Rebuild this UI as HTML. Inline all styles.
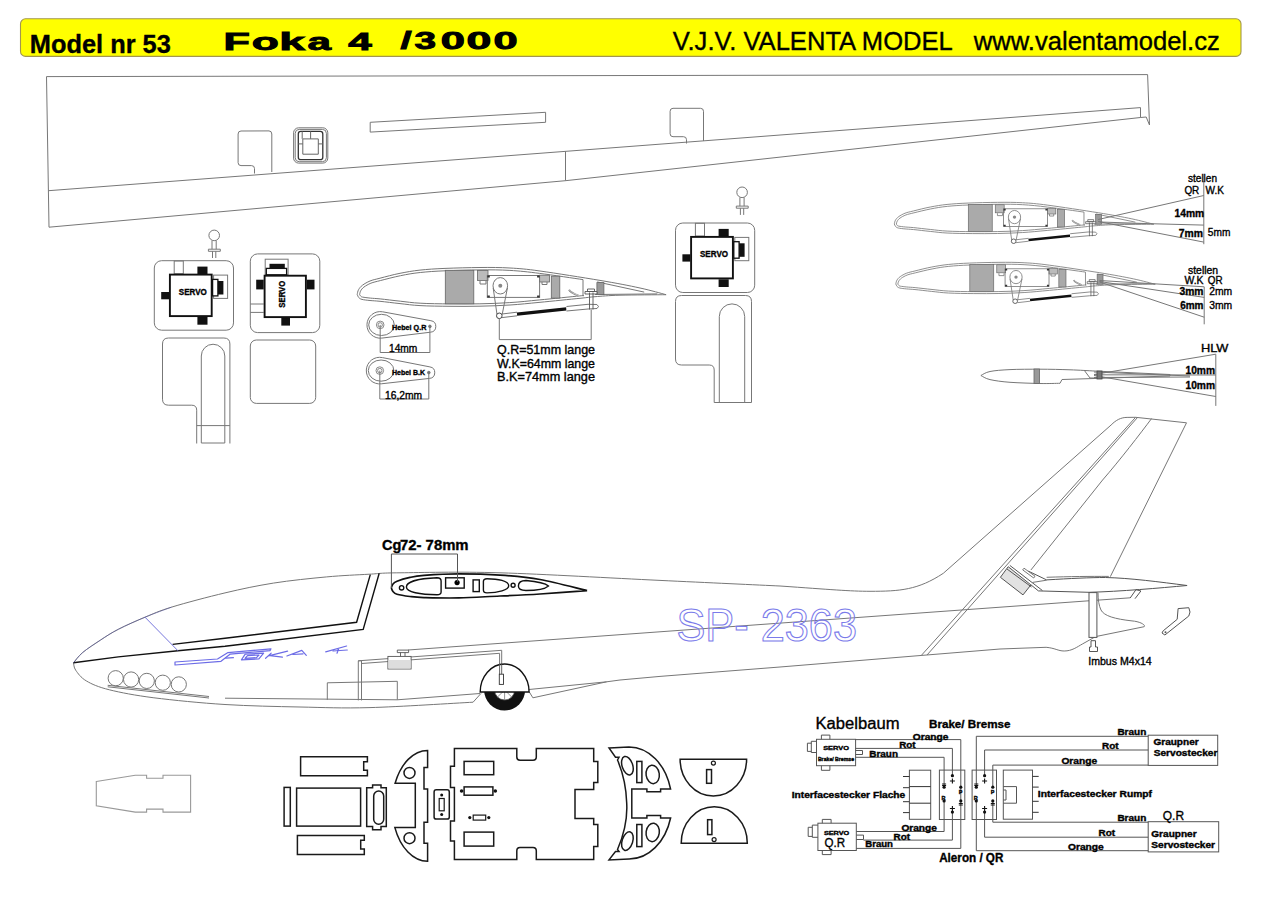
<!DOCTYPE html>
<html><head><meta charset="utf-8"><title>Foka 4</title>
<style>
html,body{margin:0;padding:0;background:#fff;width:1273px;height:900px;overflow:hidden}
svg{display:block}
text{font-family:"Liberation Sans",sans-serif;fill:#000;stroke:#000;stroke-width:0.35px}
.l{fill:none;stroke:#555;stroke-width:1}
.g{fill:none;stroke:#777;stroke-width:1}
.k{fill:none;stroke:#111;stroke-width:1.4}
.b{font-weight:bold}
</style></head><body>
<svg width="1273" height="900" viewBox="0 0 1273 900" xml:space="preserve">
<rect x="20.5" y="18.8" width="1220.5" height="37.6" rx="5" fill="#ffff00" stroke="#a39650" stroke-width="1.1"/>
<text x="29.8" y="52.6" font-size="26.0" class="b" textLength="141.0" lengthAdjust="spacingAndGlyphs">Model nr 53</text>
<text transform="translate(223.48 49.60) scale(1.778 1)" font-size="24.3" class="b" style="stroke:#000;stroke-width:0.90">F</text>
<text transform="translate(251.75 49.60) scale(1.822 1)" font-size="24.3" class="b" style="stroke:#000;stroke-width:0.90">o</text>
<text transform="translate(279.22 49.60) scale(1.902 1)" font-size="24.3" class="b" style="stroke:#000;stroke-width:0.90">k</text>
<text transform="translate(307.52 49.60) scale(1.735 1)" font-size="24.3" class="b" style="stroke:#000;stroke-width:0.90">a</text>
<text transform="translate(348.14 49.60) scale(1.735 1)" font-size="24.3" class="b" style="stroke:#000;stroke-width:0.90">4</text>
<text transform="translate(400.54 49.40) scale(1.649 1)" font-size="24.3" class="b" style="stroke:#000;stroke-width:0.90">/</text>
<text transform="translate(414.54 49.40) scale(1.594 1)" font-size="24.3" class="b" style="stroke:#000;stroke-width:0.90">3</text>
<text transform="translate(440.67 49.40) scale(1.786 1)" font-size="24.3" class="b" style="stroke:#000;stroke-width:0.90">0</text>
<text transform="translate(466.44 49.40) scale(1.834 1)" font-size="24.3" class="b" style="stroke:#000;stroke-width:0.90">0</text>
<text transform="translate(493.47 49.40) scale(1.786 1)" font-size="24.3" class="b" style="stroke:#000;stroke-width:0.90">0</text>
<text x="672.8" y="50.3" font-size="25.6" textLength="280.0" lengthAdjust="spacingAndGlyphs">V.J.V. VALENTA MODEL</text>
<text x="973.8" y="50.3" font-size="25.6" textLength="246.0" lengthAdjust="spacingAndGlyphs">www.valentamodel.cz</text>
<g class="g">
<path d="M46.5 76.6 L1147.6 74.6 L1149.5 125 L1146.2 117 L1140.5 117.5 L565.5 180.7 L49 227.2 Z"/>
<path d="M48.5 190.7 L1140.5 107.6 L1140.5 117.5"/>
<path d="M565.5 151.4 L565.5 180.7"/>
<path d="M370.2 122.3 L545.6 112.3 L545.6 122.3 L370.2 132.1 Z"/>
<path d="M241 131 L269 130.9 Q271.8 131 271.8 134 L271.8 172 M238.1 134 Q238.1 131 241 131 M238.1 134 L238.1 162.6 Q238.1 165.6 241 165.6 L251.5 165.6 Q254.5 165.6 254.5 168.6 L254.5 173.5"/>
<path d="M673 108.3 L700.5 108.3 Q703.5 108.3 703.5 111.3 L703.5 141 M670.1 111.3 Q670.1 108.3 673 108.3 M670.1 111.3 L670.1 133.7 Q670.1 136.7 673 136.7 L683.5 136.7 Q686.5 136.7 686.5 139.7 L686.5 143.5"/>
<rect x="293.6" y="127.8" width="34.2" height="35.3" rx="5"/>
<rect x="295.2" y="129.4" width="31.2" height="32.3" rx="4"/>
<rect x="298.3" y="131.4" width="24.5" height="28.3" rx="2.5" stroke="#333" stroke-width="1.3"/>
<path d="M302.8 138.9 L318.3 138.9 L318.3 154.2 L302.8 154.2 Z M302.2 131.4 L302.2 138.9 M310.6 131.4 L310.6 138.9 M298.3 143.9 L302.8 143.9 M318.3 143.9 L322.8 143.9" stroke="#666"/>
</g>
<g transform="translate(0.0 0.0)"><rect x="154.3" y="260.7" width="79.2" height="69.5" rx="7.3" class="g"/>
<rect x="174.2" y="261" width="9.1" height="12.7" class="g" stroke="#aaa"/>
<rect x="213.6" y="275.1" width="14" height="23.3" class="g" stroke="#999"/>
<rect x="197.4" y="266.6" width="10.1" height="7.5" fill="#111"/>
<rect x="197.4" y="317" width="10.1" height="7.7" fill="#111"/>
<rect x="161.2" y="292" width="8" height="7.3" fill="#111"/>
<rect x="212.6" y="279.4" width="5.3" height="16.5" fill="#fff" stroke="#111" stroke-width="1.3"/>
<rect x="217.9" y="281" width="5.5" height="13.5" fill="#111"/>
<rect x="169.9" y="274.6" width="41.8" height="41.5" fill="#fff" stroke="#111" stroke-width="1.9"/>
<text x="192.8" y="294.5" font-size="9.0" class="b" text-anchor="middle" textLength="28.0" lengthAdjust="spacingAndGlyphs">SERVO</text></g>
<g class="g"><circle cx="214.2" cy="235.4" r="5.3"/><path d="M212.0 240.6 L212.0 249.2 M216.2 240.6 L216.2 249.2 M208.4 249.2 L220.3 249.2 L220.3 251.3 L208.4 251.3 Z M212.5 251.3 L212.5 258.0 M215.8 251.3 L215.8 258.0"/></g>
<g transform="translate(521.2 -37.7)"><rect x="154.3" y="260.7" width="79.2" height="69.5" rx="7.3" class="g"/>
<rect x="174.2" y="261" width="9.1" height="12.7" class="g" stroke="#aaa"/>
<rect x="213.6" y="275.1" width="14" height="23.3" class="g" stroke="#999"/>
<rect x="197.4" y="266.6" width="10.1" height="7.5" fill="#111"/>
<rect x="197.4" y="317" width="10.1" height="7.7" fill="#111"/>
<rect x="161.2" y="292" width="8" height="7.3" fill="#111"/>
<rect x="212.6" y="279.4" width="5.3" height="16.5" fill="#fff" stroke="#111" stroke-width="1.3"/>
<rect x="217.9" y="281" width="5.5" height="13.5" fill="#111"/>
<rect x="169.9" y="274.6" width="41.8" height="41.5" fill="#fff" stroke="#111" stroke-width="1.9"/>
<text x="192.8" y="294.5" font-size="9.0" class="b" text-anchor="middle" textLength="28.0" lengthAdjust="spacingAndGlyphs">SERVO</text></g>
<g class="g"><circle cx="742.1" cy="192.3" r="5.3"/><path d="M739.9 197.5 L739.9 206.1 M744.1 197.5 L744.1 206.1 M736.3 206.1 L748.2 206.1 L748.2 208.2 L736.3 208.2 Z M740.4 208.2 L740.4 214.9 M743.7 208.2 L743.7 214.9"/></g>
<g>
<rect x="250.3" y="253.9" width="69.5" height="78.7" rx="7.3" class="g"/>
<rect x="265.2" y="259.2" width="22.9" height="15.6" class="g" stroke="#aaa"/>
<path d="M250.3 304 L263.7 304 M250.3 312.4 L263.7 312.4" class="g" stroke="#aaa"/>
<rect x="266.3" y="268.4" width="20.3" height="6.4" fill="#fff" stroke="#111" stroke-width="1.3"/>
<rect x="269.5" y="263.8" width="15.3" height="4.6" fill="#111"/>
<rect x="256.2" y="279.7" width="7.5" height="9.7" fill="#111"/>
<rect x="306.8" y="279.7" width="7.7" height="9.7" fill="#111"/>
<rect x="281.3" y="318" width="8.7" height="7.6" fill="#111"/>
<rect x="264.6" y="275.7" width="41.3" height="41.4" fill="#fff" stroke="#111" stroke-width="1.9"/>
<text x="0.0" y="0.0" font-size="9.0" class="b" text-anchor="middle" textLength="27.0" lengthAdjust="spacingAndGlyphs" transform="translate(284.6 294.2) rotate(-90)">SERVO</text></g>
<g class="g">
<path d="M168.5 338 L223.9 338 Q229.9 338 229.9 344 L229.9 443.5 M162.5 344 Q162.5 338 168.5 338 M162.5 344 L162.5 399.2 Q162.5 405.2 168.5 405.2 L191.7 405.2 Q196.7 405.2 196.7 410.2 L196.7 443.5"/>
<path d="M201.3 443 L201.3 356 A11.75 11.75 0 0 1 224.8 356 L224.8 443 Z M196.7 425.6 L229.9 425.6"/>
<rect x="250.3" y="340" width="65.4" height="63.4" rx="6"/>
<path d="M681.5 295.5 L745.5 295.5 Q751.5 295.5 751.5 301.5 L751.5 402.5 M675.5 301.5 Q675.5 295.5 681.5 295.5 M675.5 301.5 L675.5 359 Q675.5 365 681.5 365 L709.2 365 Q714.2 365 714.2 370 L714.2 402.5"/>
<path d="M719.3 402.5 L719.3 316.6 A12.7 12.7 0 0 1 744.7 316.6 L744.7 402.5 M714.2 402.5 L751.5 402.5"/>
</g>
<g id="af"><path class="g" stroke="#666" d="M357.2 294.4 C357.4 293.6 357.7 291.1 358.6 289.6 C359.5 288.1 360.6 286.6 362.5 285.2 C364.4 283.8 367.1 282.2 370.0 281.0 C372.9 279.8 375.0 279.5 380.0 278.2 C385.0 276.9 393.3 274.6 400.0 273.3 C406.7 272.0 412.5 270.9 420.0 270.1 C427.5 269.3 435.0 268.8 445.0 268.4 C455.0 268.0 469.2 267.6 480.0 267.5 C490.8 267.4 500.0 267.4 510.0 268.0 C520.0 268.6 525.0 268.9 540.0 271.0 C555.0 273.1 583.3 277.6 600.0 280.4 C616.7 283.2 629.0 285.6 640.0 288.0 C651.0 290.4 661.8 293.6 666.1 294.7 M357.2 294.4 C357.5 294.9 358.0 296.8 358.8 297.6 C359.6 298.4 360.1 298.9 362.0 299.4 C363.9 299.9 367.0 300.2 370.0 300.5 C373.0 300.8 375.0 300.8 380.0 301.3 C385.0 301.8 393.3 302.9 400.0 303.6 C406.7 304.3 411.7 305.2 420.0 305.6 C428.3 306.1 440.0 306.2 450.0 306.3 C460.0 306.4 470.0 306.4 480.0 306.2 C490.0 306.0 500.0 305.6 510.0 305.0 C520.0 304.4 528.3 303.4 540.0 302.3 C551.7 301.2 570.8 299.2 580.0 298.3 C589.2 297.4 588.3 297.2 595.0 296.7 C601.7 296.2 608.1 295.5 620.0 295.2 C631.9 294.9 658.4 294.8 666.1 294.7"/><path class="g" stroke="#888" d="M359.6 294.4 C359.8 293.8 360.0 292.0 360.7 290.8 C361.4 289.6 362.2 288.4 363.9 287.1 C365.6 285.9 368.1 284.3 370.9 283.2 C373.7 282.1 375.7 281.8 380.6 280.5 C385.5 279.3 393.9 277.0 400.5 275.7 C407.1 274.3 412.8 273.3 420.3 272.5 C427.7 271.7 435.1 271.2 445.1 270.8 C455.1 270.4 469.2 270.0 480.0 269.9 C490.8 269.8 499.9 269.8 509.9 270.4 C519.8 271.0 527.5 271.8 539.7 273.4 C551.9 274.9 575.8 278.6 583.0 279.6 M359.6 294.4 C359.8 294.7 360.0 295.5 360.5 295.9 C361.0 296.4 361.0 296.7 362.6 297.1 C364.2 297.4 367.3 297.8 370.3 298.1 C373.2 298.4 375.2 298.4 380.2 298.9 C385.2 299.4 393.6 300.5 400.3 301.2 C406.9 301.9 411.8 302.8 420.1 303.2 C428.4 303.7 440.1 303.8 450.0 303.9 C460.0 304.0 470.0 304.0 479.9 303.8 C489.9 303.6 499.9 303.3 509.8 302.6 C519.8 302.0 528.1 301.0 539.8 299.9 C551.4 298.8 572.6 296.6 579.8 295.9 C587.0 295.2 582.5 295.8 583.0 295.8 M583 279.6 L583 295.8 M597.2 281.9 L644.2 292.1 M595.1 294.5 L657.4 293.9"/><rect x="445.3" y="270.3" width="28.5" height="33.5" fill="#aaa" stroke="#666" stroke-width="0.8"/>
<rect x="477.4" y="270.5" width="10.6" height="10" fill="#bbb" stroke="#666" stroke-width="0.8"/>
<rect x="539.6" y="275.2" width="9.9" height="6.8" fill="#bbb" stroke="#666" stroke-width="0.8"/>
<path d="M480 281 L480 284 L486 284 L486 281 M542 282 L542 284.5 L547 284.5 L547 282" class="g" stroke="#333"/>
<rect x="487.3" y="275.5" width="52.3" height="21.9" class="g" stroke="#555"/>
<path d="M487.3 275.5 h2.5 v2 h-2.5 z M539.6 275.5 h-2.5 v2 h2.5 z M487.3 297.4 h2.5 v-2 h-2.5 z M539.6 297.4 h-2.5 v-2 h2.5z" fill="#333"/>
<rect x="551.3" y="276.2" width="8.5" height="21.9" fill="#aaa" stroke="#666" stroke-width="0.8"/>
<rect x="596.9" y="282.6" width="7" height="12" fill="#999" stroke="#666" stroke-width="0.8"/>
<ellipse cx="500.3" cy="285.8" rx="7.3" ry="8.2" class="g" stroke="#555"/>
<circle cx="500.3" cy="285.8" r="2" fill="#888"/>
<path d="M493.2 288 L497 314.5 M507.4 288 L502.2 314.5" class="g" stroke="#555"/>
<circle cx="499.3" cy="315.8" r="2.8" fill="#fff" stroke="#444" stroke-width="1"/>
<path d="M502 314 L517 312.2 M502 317.6 L517 315.8" class="g" stroke="#555"/>
<path d="M517 314.2 L566.5 308.9" stroke="#111" stroke-width="3.2"/>
<path d="M566.5 306.5 L588 304.3 L596.9 304.5 L598.5 306.5 L597 308.5 L588 309 L566.5 311" fill="#fff" stroke="#666" stroke-width="0.9"/>
<path d="M589.5 292.5 L589.5 309.5 M593 292.5 L593 309.5 M585 291.5 L597 291.5 L597 294 L585 294 Z M587.5 289 L594.5 289 L594.5 291.5 L587.5 291.5 Z" fill="#fff" stroke="#555" stroke-width="0.9"/>
<path d="M569 289.7 Q571 293 578.5 295.5" fill="none" stroke="#777" stroke-width="1.8"/>
<path d="M569 289.7 Q571 293 578.5 295.5" fill="none" stroke="#fff" stroke-width="0.6"/>
</g>
<path class="g" stroke="#666" d="M499.3 318.5 L499.3 339.6 L591.2 339.6 L591.2 309.5"/>
<text x="546.0" y="353.5" font-size="12.7" text-anchor="middle" textLength="98.0" lengthAdjust="spacingAndGlyphs">Q.R=51mm lange</text>
<text x="546.0" y="367.8" font-size="12.7" text-anchor="middle" textLength="98.0" lengthAdjust="spacingAndGlyphs">W.K=64mm lange</text>
<text x="546.0" y="381.0" font-size="12.7" text-anchor="middle" textLength="98.0" lengthAdjust="spacingAndGlyphs">B.K=74mm lange</text>
<use href="#af" transform="translate(594.25 -12.99) scale(0.840 0.805)"/>
<use href="#af" transform="translate(595.75 47.01) scale(0.840 0.805)"/>
<g class="g" stroke="#666"><path d="M381.8 338.1 L430.6 332.2 A5.8 5.8 0 0 0 430.9 320.7 L382.6 311.8 A13.3 13.3 0 1 0 381.8 338.1 Z"/><ellipse cx="381.5" cy="324.9" rx="12.8" ry="10.6"/><circle cx="380.2" cy="324.9" r="3.8" stroke="#888"/><circle cx="380.2" cy="324.9" r="2.2" stroke="#888"/><circle cx="429.9" cy="326.4" r="1.3" fill="#777"/><path d="M380.2 324.9 L380.2 352.5 L429.9 352.5 L429.9 326.4"/></g><text x="392.0" y="329.6" font-size="7.4" class="b" textLength="34.4" lengthAdjust="spacingAndGlyphs">Hebel Q.R</text><text x="389.0" y="352.2" font-size="10.5" textLength="28.4" lengthAdjust="spacingAndGlyphs">14mm</text>
<g class="g" stroke="#666"><path d="M381.3 383.8 L429.5 378.4 A5.8 5.8 0 0 0 429.9 366.9 L382.4 357.6 A13.3 13.3 0 1 0 381.3 383.8 Z"/><ellipse cx="381.1" cy="370.6" rx="12.8" ry="10.6"/><circle cx="379.8" cy="370.6" r="3.8" stroke="#888"/><circle cx="379.8" cy="370.6" r="2.2" stroke="#888"/><circle cx="428.8" cy="372.6" r="1.3" fill="#777"/><path d="M379.8 370.6 L379.8 399.0 L428.8 399.0 L428.8 372.6"/></g><text x="392.0" y="374.9" font-size="7.4" class="b" textLength="33.0" lengthAdjust="spacingAndGlyphs">Hebel B.K</text><text x="385.0" y="398.7" font-size="10.5" textLength="37.1" lengthAdjust="spacingAndGlyphs">16,2mm</text>
<g class="g" stroke="#666">
<path d="M1203.8 181 L1203.8 244.2 M1098.2 219.5 L1203.8 195.5 M1098.2 221.5 L1203.8 242.1 M1150 223.7 L1203.8 225.1 M1100 222 L1150 223.7"/>
<path d="M1204.2 286.8 L1204.2 324.3 M1099.6 280.5 L1204.2 286.8 M1099.6 281.5 L1204.2 297.4 M1099.6 282 L1204.2 317.2"/>
</g>
<text x="1188.0" y="182.0" font-size="10.0" textLength="29.0" lengthAdjust="spacingAndGlyphs">stellen</text>
<text x="1184.4" y="194.0" font-size="10.0" textLength="14.9" lengthAdjust="spacingAndGlyphs">QR</text>
<text x="1205.6" y="194.0" font-size="10.0" textLength="18.4" lengthAdjust="spacingAndGlyphs">W.K</text>
<text x="1174.5" y="217.4" font-size="10.5" class="b" textLength="29.7" lengthAdjust="spacingAndGlyphs">14mm</text>
<text x="1178.8" y="237.2" font-size="10.5" class="b" textLength="24.2" lengthAdjust="spacingAndGlyphs">7mm</text>
<text x="1207.8" y="235.8" font-size="10.5" textLength="22.6" lengthAdjust="spacingAndGlyphs">5mm</text>
<text x="1188.0" y="274.1" font-size="10.0" textLength="30.1" lengthAdjust="spacingAndGlyphs">stellen</text>
<text x="1184.4" y="284.0" font-size="10.0" textLength="19.1" lengthAdjust="spacingAndGlyphs">W.K</text>
<text x="1207.8" y="284.0" font-size="10.0" textLength="14.8" lengthAdjust="spacingAndGlyphs">QR</text>
<text x="1179.5" y="294.9" font-size="10.5" class="b" textLength="24.0" lengthAdjust="spacingAndGlyphs">3mm</text>
<text x="1209.2" y="294.9" font-size="10.5" textLength="23.0" lengthAdjust="spacingAndGlyphs">2mm</text>
<text x="1180.2" y="309.0" font-size="10.5" class="b" textLength="23.3" lengthAdjust="spacingAndGlyphs">6mm</text>
<text x="1209.2" y="309.0" font-size="10.5" textLength="23.0" lengthAdjust="spacingAndGlyphs">3mm</text>
<g class="g" stroke="#666">
<path d="M980.9 375.5 C982.4 374.8 985.1 372.5 990.0 371.5 C994.9 370.5 1001.7 370.0 1010.0 369.6 C1018.3 369.2 1030.0 369.2 1040.0 369.2 C1050.0 369.2 1061.0 369.5 1070.0 369.8 C1079.0 370.1 1090.0 370.8 1094.0 371.0 M980.9 375.5 C982.4 376.2 985.1 378.5 990.0 379.6 C994.9 380.7 1001.7 381.7 1010.0 382.3 C1018.3 382.9 1031.7 383.3 1040.0 383.5 C1048.3 383.7 1056.7 383.3 1060.0 383.3"/>
<path d="M1060 383.3 L1062 379.5 L1094 378.5 M1094 371 L1170 374.5 L1170 376 L1094 378.5"/>
<path d="M1215.8 354.2 L1215.8 405.9 M1094 374.5 L1215.8 354.2 M1094 374.8 L1215.8 375 M1094 375.5 L1215.8 396.5 M1094 372 L1190 376 M1094 377.5 L1190 377"/>
<path d="M1084 370 L1090 378 L1096 378"/>
</g>
<rect x="1034" y="369" width="5.6" height="14.5" fill="#999" stroke="#666" stroke-width="0.8"/>
<rect x="1097" y="371" width="5" height="8" fill="#777" stroke="#444" stroke-width="0.8"/>
<text x="1200.9" y="352.0" font-size="11.5" textLength="27.5" lengthAdjust="spacingAndGlyphs">HLW</text>
<text x="1215.0" y="373.6" font-size="10.5" class="b" text-anchor="end" textLength="29.5" lengthAdjust="spacingAndGlyphs">10mm</text>
<text x="1215.0" y="389.0" font-size="10.5" class="b" text-anchor="end" textLength="29.5" lengthAdjust="spacingAndGlyphs">10mm</text>
<g class="g" stroke="#555"><path d="M73.5 662.8 C75.0 661.1 78.3 656.2 82.8 652.4 C87.3 648.6 94.7 643.9 100.6 640.0 C106.5 636.1 110.9 633.1 118.3 629.3 C125.7 625.5 136.1 620.9 145.0 617.2 C153.9 613.5 158.4 611.2 171.7 607.1 C185.0 603.0 208.1 596.9 225.0 592.9 C241.9 588.9 256.4 585.8 273.4 583.1 C290.3 580.4 310.7 578.4 326.7 576.9 C342.7 575.4 357.2 574.9 369.4 574.2 C381.6 573.5 378.2 573.0 400.0 572.8 C421.8 572.6 456.7 571.5 500.0 572.8 C543.3 574.1 613.3 578.2 660.0 580.4 C706.7 582.6 760.0 585.1 780.0 586.0 C830 589.5 850 591.3 870 591.3 C900 591.3 918 590 943.3 573.3 L1111.1 425 C1116 420 1121 417.4 1127.1 417.4 L1135.6 417.3 L1186.5 422.8 L1110.3 576.7"/><path d="M73.5 662.8 C73.9 664.0 73.6 667.2 75.7 670.2 C77.8 673.2 80.7 677.6 86.3 680.9 C91.9 684.2 98.1 687.0 109.4 689.8 C120.7 692.6 134.6 695.3 153.9 697.8 C173.2 700.2 200.7 703.0 225.0 704.5 C249.3 706.0 275.8 706.5 300.0 707.0 C324.2 707.5 341.1 708.4 370.0 707.6 C398.9 706.8 455.9 703.1 473.1 702.2 L481.1 693.3"/><path d="M529.3 692 L532.9 697.8 L606.7 681.8 L620 680 L660 676.4 L780 667 L1000 649 L1046.1 647.3 C1055 648 1058 651 1064.2 651 C1072 651 1077 647 1082.4 644 L1095.6 636.6 L1144.2 626.7 C1146 625 1140 621.5 1132 620.9 C1115 619 1104 616 1101 610 C1099 606 1098 600 1098 592.6"/><path d="M528 689.6 L606.7 681.8"/><path d="M408 650 L1130.2 597.8"/><path d="M225 698.2 L397.3 699.8 L480 693.5"/><path d="M1135.6 417.3 L921.7 655 M1137.5 417.5 L927 655 M1151.6 418.5 C1140 434 1120 460 1102.6 480 L1030.9 570"/><circle cx="115.7" cy="678.2" r="7.6"/><circle cx="131.1" cy="679.5" r="7.6"/><circle cx="146.8" cy="680.9" r="7.6"/><circle cx="162.8" cy="682.7" r="7.6"/><circle cx="178.8" cy="684.4" r="7.6"/><path d="M107.7 685.3 L209 696.5 M107.7 686.8 L209 698" stroke="#777"/><path d="M327.3 699.8 L327.3 682.8 L397.3 681.3 L397.3 699.8"/><path d="M358.3 700.4 L358.3 660.8 L361.5 660.8 L361.5 700.4 M358.3 660.8 L501.7 650.3 L501.7 665 M361.5 663.5 L499.6 653.3 L499.6 665"/></g>
<g class="k" stroke="#222" stroke-width="1.1">
<path d="M379.2 573.3 L363.2 629.4 L225 646.3 L177.9 650.7 L118.3 656.9 L73.5 662.8"/>
<path d="M370.3 574.6 L356.6 622.3 L225 638.3 L172.6 644.4"/>
</g>
<path d="M145 617.2 L177.9 650.7" stroke="#7777dd" stroke-width="1" fill="none"/>
<path d="M73.5 662.8 C75.0 661.1 78.3 656.2 82.8 652.4 C87.3 648.6 94.7 643.9 100.6 640.0 C106.5 636.1 110.9 633.1 118.3 629.3 C125.7 625.5 136.1 620.9 145.0 617.2 C153.9 613.5 167.2 608.8 171.7 607.1" stroke="#5555aa" stroke-width="0.8" fill="none" opacity="0.6"/>
<rect x="387.9" y="656.4" width="23.2" height="12.6" fill="#fff" stroke="#555" stroke-width="0.9"/><rect x="388.4" y="660" width="22.2" height="8.5" fill="#ddd"/>
<path d="M397.3 650.1 L408.6 650.1 L408.6 652.6 L397.3 652.6 Z M400.5 652.6 L400.5 656.4 M405 652.6 L405 656.4" fill="#fff" stroke="#555" stroke-width="0.9"/>
<circle cx="504.6" cy="690" r="20.5" fill="#111"/>
<circle cx="504.6" cy="690" r="10" fill="#fff" stroke="#555" stroke-width="0.8"/>
<path d="M504.6 680 L504.6 700 M494.6 690 L514.6 690 M497.5 683 L511.7 697 M511.7 683 L497.5 697" stroke="#777" stroke-width="0.8"/>
<path d="M480.2 692 A24.45 28 0 0 1 529.1 692 Z" fill="#fff" stroke="#111" stroke-width="1.4"/>
<path d="M499.6 664 L499.6 674.2 M501.7 664 L501.7 674.2" stroke="#555" stroke-width="0.9"/><rect x="499.3" y="674.2" width="4.2" height="10.2" fill="#fff" stroke="#333" stroke-width="0.9"/>
<path d="M391.3 587.9 C391.6 587.2 392.1 585.1 393.0 584.0 C393.9 582.9 394.2 582.3 397.0 581.2 C399.8 580.1 405.5 578.4 410.0 577.4 C414.5 576.4 415.9 576.0 424.0 575.4 C432.1 574.8 446.2 573.9 458.9 573.9 C471.6 573.9 486.5 574.2 500.0 575.1 C513.5 576.0 525.5 576.9 540.0 579.5 C554.5 582.1 579.2 588.8 587.1 590.6 M391.3 587.9 C391.6 588.5 392.1 590.5 393.0 591.5 C393.9 592.5 394.2 593.4 397.0 594.2 C399.8 595.0 405.5 595.9 410.0 596.5 C414.5 597.1 415.9 597.4 424.0 597.6 C432.1 597.8 446.2 598.2 458.9 597.9 C471.6 597.6 486.5 596.6 500.0 596.0 C513.5 595.4 525.5 594.9 540.0 594.0 C554.5 593.1 579.2 591.2 587.1 590.6" fill="#fff" stroke="#111" stroke-width="1.7"/>
<g fill="none" stroke="#111" stroke-width="1.4">
<circle cx="401.6" cy="587.8" r="2.2"/>
<path d="M406.4 587 C406.4 582 418 578.5 437 577.8 C440.5 577.8 441.1 579 441.1 581 L441.1 592 C441.1 594 440 594.7 437 594.7 C420 594.7 406.4 592 406.4 587 Z"/>
<rect x="445.6" y="577.8" width="18.6" height="10.3"/>
<rect x="473.1" y="579.9" width="6.2" height="11.7"/>
<path d="M483.4 581.5 C483.4 579.3 484.5 578.7 487 578.7 C498 578.7 508.7 581 508.7 585.8 C508.7 590 498 592.9 487 592.9 C484.5 592.9 483.4 592 483.4 590 Z"/>
<circle cx="513.1" cy="585.2" r="2"/>
<path d="M518.4 586 C518.4 582.5 521 580.5 526 580.5 C537 581.5 545 583 548.5 586 C545 589 537 590.5 526 590.5 C521 590.5 518.4 589 518.4 586 Z"/>
</g>
<circle cx="457.1" cy="582.6" r="2.6" fill="#000"/>
<path d="M391.4 588 L391.4 554 L457.5 554 L457.5 582" fill="none" stroke="#555" stroke-width="1"/>
<text x="382.1" y="550.2" font-size="14.5" class="b">Cg</text>
<text x="400.0" y="550.2" font-size="14.5" class="b" textLength="68.6" lengthAdjust="spacingAndGlyphs">72- 78mm</text>
<g fill="none" stroke="#6c6ce6" stroke-width="1.2" stroke-linejoin="round" stroke-linecap="round">
<path d="M175 662 L217.5 659 L228 652.6 L271 648.8 L270 650.6 L230 654.2 L221 661.3 L175 665 Z"/>
<path d="M225.8 658.2 L233.4 657.7"/>
<path d="M241.4 659.8 L245.2 654.2 L263.6 653.2 L258.9 658.9 Z M245 658.3 L247.5 655.6 L259 655 L256.5 657.6 Z"/>
<path d="M265.6 658.3 L271.2 653.1 M268.5 655.8 L287.6 651.2 M270 655.6 L282.4 657.2"/>
<path d="M286.9 656 L301.8 650.4 L306.3 655.3 M293 654.5 L303 653.8"/>
<path d="M325.7 651.9 L346.6 646 M339 648 L337 653.2 M333 651 L347.3 650"/>
</g>
<text x="676.5" y="641.2" font-size="45.7" style="fill:none;stroke:#7b7bea;stroke-width:1.1" textLength="180.5" lengthAdjust="spacingAndGlyphs">SP- 2363</text>
<path d="M1028.3 571.1 L1046.6 579.9 C1070 578.5 1090 577.5 1105.5 577.5 C1130 578 1160 582 1187.1 585.5 C1160 588 1120 591.5 1089 592.3 L1038.4 590.9 L1031 584.9" fill="#fff" stroke="#555" stroke-width="1"/>
<path d="M1046.6 577.3 C1070 576.5 1090 576.3 1108.8 576.4 M1032.7 582.4 L1046.6 580.2" fill="none" stroke="#666" stroke-width="0.9"/>
<path d="M1000.4 577.3 L1008.2 566.7 L1030.9 584.9 L1023 594.9 Z" fill="#e2e2e2" stroke="#555" stroke-width="1"/>
<path d="M1009.8 565.4 L1034 584 L1042.4 590.5 M1007 569 L1031.5 587" fill="none" stroke="#444" stroke-width="0.9"/>
<path d="M1022.7 569.9 L1024 568.2 L1035 576.2 L1033.7 578 Z" fill="#fff" stroke="#666" stroke-width="0.9"/>
<rect x="1089" y="592.6" width="7.9" height="44.8" fill="#fff" stroke="#555" stroke-width="1"/>
<path d="M1091 640.7 L1095.5 640.7 L1095.5 647 L1097.5 647 L1097.5 651.5 L1089.5 651.5 L1089.5 647 L1091 647 Z" fill="#fff" stroke="#444" stroke-width="0.9"/>
<path d="M1130.2 598 L1136 589.6 L1140.9 591 L1135 598.7" fill="none" stroke="#555"/>
<path d="M1178.1 608.6 L1188.8 607.7 L1190 612 L1188.8 616 L1164.9 635 L1162 633 L1163.2 630.8 L1177.2 619.3 Z" fill="#fff" stroke="#555" stroke-width="1"/>
<circle cx="1165.5" cy="632.2" r="1" fill="#555"/>
<text x="1088.2" y="664.6" font-size="10.5" textLength="63.5" lengthAdjust="spacingAndGlyphs">Imbus M4x14</text>
<path d="M96.3 781.5 L135.3 775.2 L146.6 775.2 L146.6 778.2 L163 778.2 L163 775.2 L190.6 775.2 L190.6 812.1 L163 812.1 L163 809.1 L146.6 809.1 L146.6 812.1 L135.3 812.1 L96.3 805.9 Z" fill="none" stroke="#999" stroke-width="1.1"/>
<g fill="none" stroke="#1a1a1a" stroke-width="1.5" stroke-linejoin="miter">
<path d="M300.6 756.7 L367.4 756.7 L367.4 761.7 L363.7 761.7 L363.7 770.3 L367.4 770.3 L367.4 775.7 L300.6 775.7 Z"/>
<rect x="284.1" y="787.4" width="6.2" height="38.7"/>
<rect x="296.6" y="788.1" width="64" height="38"/>
<path d="M366.7 787.7 L372.6 787.7 L372.6 785 L381 785 L381 787.7 L386.3 787.7 L386.3 826.6 L381 826.6 L381 829.7 L372.6 829.7 L372.6 826.6 L366.7 826.6 Z"/>
<rect x="373.7" y="791" width="10" height="33.3" rx="5"/>
<path d="M297.4 835.4 L364.3 835.4 L364.3 840.3 L360.7 840.3 L360.7 849 L364.3 849 L364.3 854.6 L297.4 854.6 Z"/>
<path d="M427.6 750.4 A35.6 55.4 0 0 0 395.1 783.3 L415.3 783.3 L415.3 827.4 L394.8 827.4 A35.6 55.4 0 0 0 427.6 861.3 L427.6 843.2 L424 843.2 L424 822.3 L427.6 822.3 L427.6 789.1 L424 789.1 L424 767.4 L427.6 767.4 Z"/>
<circle cx="409.5" cy="772.9" r="5.5"/><circle cx="409.5" cy="838.2" r="5.5"/>
<rect x="434.1" y="789.8" width="15.2" height="29.3" rx="2.2"/>
<rect x="439.2" y="798.5" width="5" height="12.3" stroke-width="1.2"/>
<path d="M454.4 748.4 L516.8 748.4 L516.8 757 Q516.8 760.2 520 760.2 L533 760.2 Q536.3 760.2 536.3 757 L536.3 748.4 L593.7 748.4 L593.7 761.4 L597.8 761.4 L597.8 782.6 L593.7 782.6 L593.7 789.4 L575 789.4 L575 818.4 L593.7 818.4 L593.7 824.5 L597.8 824.5 L597.8 846.6 L593.7 846.6 L593.7 859.6 L536.3 859.6 L536.3 851 Q536.3 847.6 533 847.6 L520 847.6 Q516.8 847.6 516.8 851 L516.8 859.6 L454.4 859.6 L454.4 841.1 L450.5 841.1 L450.5 820.9 L454.4 820.9 L454.4 787.4 L450.5 787.4 L450.5 766.3 L454.4 766.3 Z"/>
<rect x="464.1" y="761.4" width="29.6" height="13.3"/>
<rect x="464.1" y="832.1" width="29.6" height="14"/>
<rect x="464.1" y="786.9" width="28.8" height="8.3"/>
<rect x="473.2" y="815.1" width="12.5" height="5" stroke-width="1.2"/>
<path d="M609 747.9 L629 747 A43 56 0 0 1 670.6 789.1 L660.6 789.1 L660.6 791.7 L646.9 791.7 L646.9 789.1 L631.8 789.1 L631.8 818 L646.9 818 L646.9 815.4 L660.6 815.4 L660.6 818 L670.6 818 A43 56 0 0 1 629 859 L609 859.9 L615.5 851.5 L619 851.5 L617.5 849.5 Q628 825 626.7 803 Q626 780 617.5 760 L619 757.3 L615.5 757.3 Z"/>
<ellipse cx="627.4" cy="765.7" rx="5.3" ry="9.6" transform="rotate(-18 627.4 765.7)"/>
<ellipse cx="652.7" cy="774.4" rx="6.6" ry="9.3" transform="rotate(-8 652.7 774.4)"/>
<rect x="636.8" y="761.4" width="5.1" height="21.2"/>
<ellipse cx="627.4" cy="841.1" rx="5.3" ry="9.6" transform="rotate(18 627.4 841.1)"/>
<ellipse cx="652.7" cy="832.4" rx="6.6" ry="9.3" transform="rotate(8 652.7 832.4)"/>
<rect x="636.8" y="824.5" width="5.1" height="22.1"/>
<path d="M680.1 759.2 L746.6 759.2 A33.25 36.8 0 0 1 680.1 759.2 Z"/>
<circle cx="713.4" cy="763.1" r="2" stroke-width="1.2"/>
<rect x="706.6" y="769.6" width="4.9" height="13.7"/>
<path d="M681.2 843.2 L747.3 843.2 A33.05 36.5 0 0 0 681.2 843.2 Z"/>
<circle cx="714.1" cy="839.6" r="2" stroke-width="1.2"/>
<rect x="707.6" y="819.7" width="4.3" height="14.9"/>
</g>
<g fill="#111">
<circle cx="441.7" cy="794.9" r="1.5"/>
<circle cx="441.7" cy="814.4" r="1.5"/>
<circle cx="461.6" cy="791.0" r="1.8"/>
<circle cx="495.3" cy="791.0" r="1.8"/>
<circle cx="469.8" cy="817.6" r="1.6"/>
<circle cx="488.8" cy="817.6" r="1.6"/>
</g>
<text x="815.5" y="728.6" font-size="15.8" textLength="84.0" lengthAdjust="spacingAndGlyphs">Kabelbaum</text>
<text x="929.0" y="727.7" font-size="11.2" class="b" textLength="81.5" lengthAdjust="spacingAndGlyphs">Brake/ Bremse</text>
<text x="939.2" y="861.7" font-size="12.0" class="b" textLength="64.2" lengthAdjust="spacingAndGlyphs">Aleron / QR</text>
<g fill="none" stroke="#555" stroke-width="1"><rect x="816.5" y="739.3" width="39.1" height="26.4"/><path d="M821.4 739.3 L821.4 735.1 L829.9 735.1 L829.9 739.3 M821.4 765.7 L821.4 770.3 L829.9 770.3 L829.9 765.7 M816.5 741.3 L811.3 741.3 L811.3 752.5 L816.5 752.5 M811.3 743.2 L807.4 743.2 L807.4 751.4 L811.3 751.4 M855.6 750.5 L862.5 750.5 L862.5 754.5 L855.6 754.5"/><rect x="817.9" y="823.2" width="38.4" height="27.3"/><path d="M822.3 823.2 L822.3 819.4 L831.1 819.4 L831.1 823.2 M822.3 850.5 L822.3 854.6 L831.1 854.6 L831.1 850.5 M817.9 825.1 L812.3 825.1 L812.3 837.3 L817.9 837.3 M812.3 827.3 L808.2 827.3 L808.2 836.4 L812.3 836.4 M856.3 835.1 L863.5 835.1 L863.5 839.5 L856.3 839.5"/><path d="M855.6 739.6 L960.8 739.6 L960.8 848.4 L856.3 848.4"/><path d="M855.6 748.4 L952.4 748.4 L952.4 775.7 M952.4 812.1 L952.4 840.1 L863.5 840.1"/><path d="M855.6 757.3 L944.1 757.3 L944.1 787.2 M944.1 800.9 L944.1 831.5 L856.3 831.5"/><path d="M1148.2 736.3 L976.3 736.3 L976.3 787.2 M976.3 800.9 L976.3 850.7 L1148.2 850.7"/><path d="M1148.2 750 L984.6 750 L984.6 775.7 M984.6 812.1 L984.6 837.2 L1148.2 837.2"/><path d="M1148.2 765.1 L992.8 765.1 L992.8 787.2 M992.8 800.9 L992.8 822.2 L1148.2 822.2"/><rect x="909.4" y="770.2" width="21.3" height="49.1"/><path d="M909.4 786.6 L930.7 786.6 M909.4 803.2 L930.7 803.2 M903 776.5 L909.4 776.5 M903 787.7 L909.4 787.7 M903 801.7 L909.4 801.7 M903 812.6 L909.4 812.6" stroke="#333"/><rect x="939.4" y="770.1" width="25.4" height="49.4"/><rect x="972.1" y="770.1" width="24.4" height="49.4"/><rect x="1003.3" y="770.1" width="29.2" height="49.1"/><path d="M1003.3 786.6 L1016.5 786.6 L1016.5 803.2 L1003.3 803.2 M1003.3 790 L1006 790 L1006 800 L1003.3 800" /><path d="M1032.5 776.4 L1038.7 776.4 M1032.5 787.1 L1038.7 787.1 M1032.5 801.3 L1038.7 801.3 M1032.5 812.3 L1038.7 812.3" stroke="#333"/><rect x="1148.2" y="735.2" width="69.5" height="30.2"/><rect x="1148.2" y="821.7" width="70.5" height="30.2"/></g>
<g fill="#111"><circle cx="952.4" cy="775.7" r="1.6"/><circle cx="944.1" cy="787.2" r="1.6"/><circle cx="960.8" cy="787.2" r="1.6"/><circle cx="944.1" cy="800.9" r="1.6"/><circle cx="960.8" cy="800.9" r="1.6"/><circle cx="952.4" cy="812.1" r="1.6"/><circle cx="984.6" cy="775.7" r="1.6"/><circle cx="976.3" cy="787.2" r="1.6"/><circle cx="992.8" cy="787.2" r="1.6"/><circle cx="976.3" cy="800.9" r="1.6"/><circle cx="992.8" cy="800.9" r="1.6"/><circle cx="984.6" cy="812.1" r="1.6"/></g>
<g fill="none" stroke="#111" stroke-width="1.1">
<path d="M952.4 778.5 L952.4 783.5 M949.9 781 L954.9 781"/>
<path d="M952.4 806 L952.4 811 M949.9 808.5 L954.9 808.5"/>
<path d="M984.6 778.5 L984.6 783.5 M982.1 781 L987.1 781"/>
<path d="M984.6 806 L984.6 811 M982.1 808.5 L987.1 808.5"/>
<path d="M942.1 784 L946.1 784 M942.1 785.5 L946.1 785.5"/>
<path d="M974.3 784 L978.3 784 M974.3 785.5 L978.3 785.5"/>
<path d="M958.8 803.5 L962.8 803.5 M958.8 805 L962.8 805"/>
<path d="M990.8 803.5 L994.8 803.5 M990.8 805 L994.8 805"/>
</g>
<text x="941.6" y="799.5" font-size="5.5" class="b">R</text>
<text x="973.8" y="799.5" font-size="5.5" class="b">R</text>
<text x="958.8" y="793.0" font-size="6.0" class="b">p</text>
<text x="990.8" y="793.0" font-size="6.0" class="b">p</text>
<text x="836.1" y="750.1" font-size="5.6" class="b" text-anchor="middle" textLength="25.8" lengthAdjust="spacingAndGlyphs">SERVO</text>
<text x="836.0" y="760.8" font-size="5.2" class="b" text-anchor="middle" textLength="36.2" lengthAdjust="spacingAndGlyphs">Brake/ Bremse</text>
<text x="836.6" y="834.6" font-size="5.6" class="b" text-anchor="middle" textLength="25.4" lengthAdjust="spacingAndGlyphs">SERVO</text>
<text x="824.5" y="846.7" font-size="12.3" textLength="20.6" lengthAdjust="spacingAndGlyphs">Q.R</text>
<text x="912.8" y="740.0" font-size="8.2" class="b" textLength="35.5" lengthAdjust="spacingAndGlyphs">Orange</text>
<text x="899.2" y="747.5" font-size="8.2" class="b" textLength="16.4" lengthAdjust="spacingAndGlyphs">Rot</text>
<text x="869.3" y="757.0" font-size="8.2" class="b" textLength="28.7" lengthAdjust="spacingAndGlyphs">Braun</text>
<text x="901.4" y="830.6" font-size="8.2" class="b" textLength="35.5" lengthAdjust="spacingAndGlyphs">Orange</text>
<text x="893.5" y="839.5" font-size="8.2" class="b" textLength="16.5" lengthAdjust="spacingAndGlyphs">Rot</text>
<text x="865.2" y="847.0" font-size="8.2" class="b" textLength="27.8" lengthAdjust="spacingAndGlyphs">Braun</text>
<text x="1117.4" y="734.8" font-size="8.2" class="b" textLength="28.9" lengthAdjust="spacingAndGlyphs">Braun</text>
<text x="1102.0" y="749.4" font-size="8.2" class="b" textLength="16.6" lengthAdjust="spacingAndGlyphs">Rot</text>
<text x="1061.4" y="763.5" font-size="8.2" class="b" textLength="35.8" lengthAdjust="spacingAndGlyphs">Orange</text>
<text x="1117.4" y="820.6" font-size="8.2" class="b" textLength="28.9" lengthAdjust="spacingAndGlyphs">Braun</text>
<text x="1098.6" y="836.2" font-size="8.2" class="b" textLength="16.6" lengthAdjust="spacingAndGlyphs">Rot</text>
<text x="1068.0" y="850.0" font-size="8.2" class="b" textLength="35.8" lengthAdjust="spacingAndGlyphs">Orange</text>
<text x="1153.4" y="745.0" font-size="8.2" class="b" textLength="45.3" lengthAdjust="spacingAndGlyphs">Graupner</text>
<text x="1153.7" y="755.7" font-size="8.2" class="b" textLength="63.7" lengthAdjust="spacingAndGlyphs">Servostecker</text>
<text x="1151.3" y="836.8" font-size="8.2" class="b" textLength="45.3" lengthAdjust="spacingAndGlyphs">Graupner</text>
<text x="1151.3" y="847.6" font-size="8.2" class="b" textLength="63.7" lengthAdjust="spacingAndGlyphs">Servostecker</text>
<text x="1162.8" y="820.2" font-size="13.0" textLength="21.3" lengthAdjust="spacingAndGlyphs">Q.R</text>
<text x="791.7" y="797.7" font-size="8.6" class="b" textLength="113.6" lengthAdjust="spacingAndGlyphs">Interfacestecker Flache</text>
<text x="1037.8" y="797.1" font-size="8.6" class="b" textLength="114.2" lengthAdjust="spacingAndGlyphs">Interfacestecker Rumpf</text>
</svg>
</body></html>
